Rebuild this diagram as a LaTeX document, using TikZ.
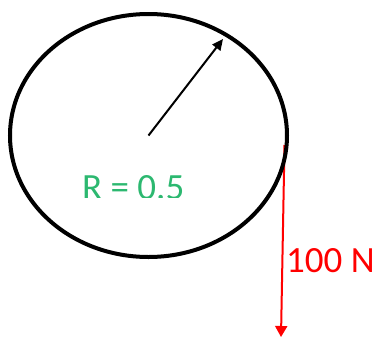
\documentclass[tikz,border=0pt]{standalone}
\usepackage{fontspec}
\setmainfont{Carlito}
\usetikzlibrary{arrows.meta}
\definecolor{rgreen}{RGB}{44,184,112}
\tikzset{
  rim/.style={line width=4pt, draw=black},
  radius arrow/.style={line width=2pt, draw=black, -{Triangle[length=11pt,width=10pt]}},
  force/.style={line width=2pt, draw=red, -{Triangle[length=11pt,width=12pt]}},
  lbl/.style={font=\fontsize{37}{40}\selectfont, inner sep=0pt, anchor=base west}
}
\begin{document}
\begin{tikzpicture}[x=1pt,y=-1pt]
\useasboundingbox (0,0) rectangle (376,338);
\coordinate (c) at (148.5,135.5);
\coordinate (rtip) at (223,39);
\coordinate (ftop) at (284.5,145);
\coordinate (fbot) at (281,337);
\draw[force] (ftop) -- (fbot);
\draw[rim] (c) ellipse [x radius=138.5, y radius=121.5];
\draw[radius arrow] (c) -- (rtip);
\begin{scope}
\clip (0,0) rectangle (376,197);
\node[lbl, text=rgreen] (rlabel) at (82,199) {R = 0.5};
\end{scope}
\node[lbl, text=red] (flabel) at (286,272) {100 N};
\end{tikzpicture}
\end{document}
